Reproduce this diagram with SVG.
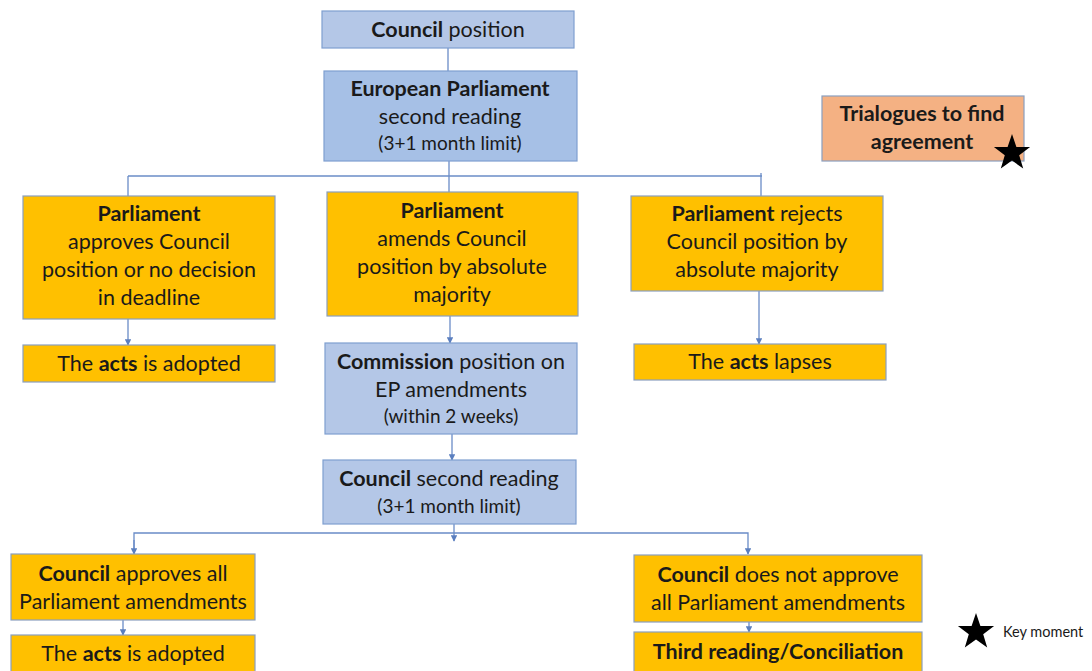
<svg xmlns="http://www.w3.org/2000/svg" width="1092" height="671" viewBox="0 0 1092 671">
<defs>
<style>
.t{font-family:Lato,"Open Sans",sans-serif;font-size:21.5px;fill:#1a1a1a;text-anchor:middle}
.s{font-size:19px}
.b{font-weight:bold}
.gold{fill:#ffc000;stroke:#8a9fbf;stroke-width:1.2}
.blue{fill:#b4c7e7;stroke:#7f9fd0;stroke-width:1.2}
.blue2{fill:#a6c0e6;stroke:#7f9fd0;stroke-width:1.2}
.peach{fill:#f4b183;stroke:#8a9fbf;stroke-width:1.2}
.c{fill:none;stroke:#6a8cc7;stroke-width:1.3}
</style>
<marker id="ah" viewBox="0 0 10 10" refX="9" refY="5" markerWidth="5" markerHeight="5" orient="auto">
<path d="M0,0 L10,5 L0,10 z" fill="#5b7fbf"/>
</marker>
<path id="star" d="M0,-19 L4.4,-6.1 L18.1,-5.9 L7.2,2.3 L11.2,15.4 L0,7.6 L-11.2,15.4 L-7.2,2.3 L-18.1,-5.9 L-4.4,-6.1 z" fill="#000"/>
</defs>
<rect width="1092" height="671" fill="#fff"/>
<g id="connectors">
<line class="c" x1="448" y1="48" x2="448" y2="71"/>
<line class="c" x1="449" y1="161" x2="449" y2="192"/>
<line class="c" x1="128" y1="176" x2="762" y2="176"/>
<line class="c" x1="128" y1="176" x2="128" y2="196"/>
<line class="c" x1="761" y1="173" x2="761" y2="196"/>
<line class="c" x1="128" y1="319" x2="128" y2="345" marker-end="url(#ah)"/>
<line class="c" x1="450" y1="316" x2="450" y2="343" marker-end="url(#ah)"/>
<line class="c" x1="759" y1="291" x2="759" y2="344" marker-end="url(#ah)"/>
<line class="c" x1="452" y1="434" x2="452" y2="460" marker-end="url(#ah)"/>
<line class="c" x1="454" y1="524" x2="454" y2="541" marker-end="url(#ah)"/>
<polyline class="c" points="134,553 134,533 748,533 748,554" marker-end="url(#ah)"/>
<line class="c" x1="134" y1="540" x2="134" y2="554" marker-end="url(#ah)"/>
<line class="c" x1="123" y1="620" x2="123" y2="635" marker-end="url(#ah)"/>
<line class="c" x1="749" y1="622" x2="749" y2="632" marker-end="url(#ah)"/>
</g>
<g id="council-position">
<rect class="blue" x="322" y="11" width="252" height="37"/>
<text class="t" x="448" y="37"><tspan class="b">Council</tspan> position</text>
</g>
<g id="ep-second-reading">
<rect class="blue2" x="324" y="71" width="253" height="90"/>
<text class="t b" x="450" y="96">European Parliament</text>
<text class="t" x="450" y="124">second reading</text>
<text class="t s" x="450" y="150">(3+1 month limit)</text>
</g>
<g id="trialogues">
<rect class="peach" x="822" y="96" width="202" height="65"/>
<text class="t b" x="922" y="121">Trialogues to find</text>
<text class="t b" x="922" y="149">agreement</text>
<use href="#star" x="1012" y="153"/>
</g>
<g id="parl-approves">
<rect class="gold" x="23" y="196" width="252" height="123"/>
<text class="t b" x="149" y="221">Parliament</text>
<text class="t" x="149" y="249">approves Council</text>
<text class="t" x="149" y="277">position or no decision</text>
<text class="t" x="149" y="305">in deadline</text>
</g>
<g id="parl-amends">
<rect class="gold" x="327" y="192" width="251" height="124"/>
<text class="t b" x="452" y="218">Parliament</text>
<text class="t" x="452" y="246">amends Council</text>
<text class="t" x="452" y="274">position by absolute</text>
<text class="t" x="452" y="302">majority</text>
</g>
<g id="parl-rejects">
<rect class="gold" x="631" y="196" width="252" height="95"/>
<text class="t" x="757" y="221"><tspan class="b">Parliament</tspan> rejects</text>
<text class="t" x="757" y="249">Council position by</text>
<text class="t" x="757" y="277">absolute majority</text>
</g>
<g id="acts-adopted-1">
<rect class="gold" x="23" y="345" width="252" height="37"/>
<text class="t" x="149" y="371">The <tspan class="b">acts</tspan> is adopted</text>
</g>
<g id="commission-position">
<rect class="blue" x="325" y="343" width="252" height="91"/>
<text class="t" x="451" y="369"><tspan class="b">Commission</tspan> position on</text>
<text class="t" x="451" y="397">EP amendments</text>
<text class="t s" x="451" y="423">(within 2 weeks)</text>
</g>
<g id="acts-lapses">
<rect class="gold" x="634" y="344" width="252" height="36"/>
<text class="t" x="760" y="369">The <tspan class="b">acts</tspan> lapses</text>
</g>
<g id="council-second-reading">
<rect class="blue" x="323" y="460" width="253" height="64"/>
<text class="t" x="449" y="486"><tspan class="b">Council</tspan> second reading</text>
<text class="t s" x="449" y="513">(3+1 month limit)</text>
</g>
<g id="council-approves">
<rect class="gold" x="11" y="554" width="244" height="66"/>
<text class="t" x="133" y="581"><tspan class="b">Council</tspan> approves all</text>
<text class="t" x="133" y="609">Parliament amendments</text>
</g>
<g id="acts-adopted-2">
<rect class="gold" x="11" y="635" width="244" height="40"/>
<text class="t" x="133" y="661">The <tspan class="b">acts</tspan> is adopted</text>
</g>
<g id="council-not-approve">
<rect class="gold" x="634" y="555" width="288" height="67"/>
<text class="t" x="778" y="582"><tspan class="b">Council</tspan> does not approve</text>
<text class="t" x="778" y="610">all Parliament amendments</text>
</g>
<g id="third-reading">
<rect class="gold" x="634" y="632" width="288" height="43"/>
<text class="t b" x="778" y="659">Third reading/Conciliation</text>
</g>
<g id="legend">
<use href="#star" x="976" y="632"/>
<text x="1003" y="637" style="font-family:Lato,'Open Sans',sans-serif;font-size:14.5px;fill:#1a1a1a">Key moment</text>
</g>
</svg>
